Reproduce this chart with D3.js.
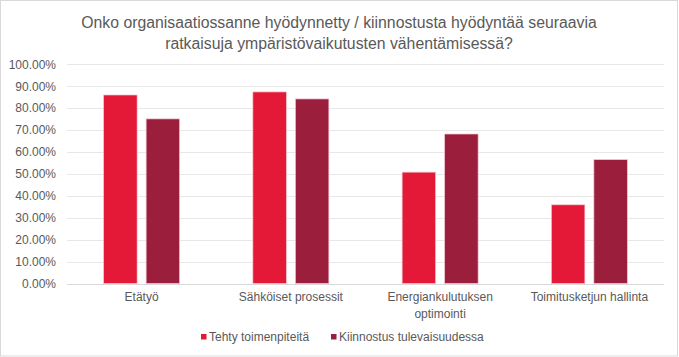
<!DOCTYPE html>
<html>
<head>
<meta charset="utf-8">
<script src="https://cdn.jsdelivr.net/npm/d3@7"></script>
<style>
  html, body { margin: 0; padding: 0; background: #fff; }
  svg { display: block; font-family: "Liberation Sans", Arial, sans-serif; }
</style>
</head>
<body>
<svg id="chart" width="679" height="357"></svg>
<script>
const titleLines = ["Onko organisaatiossanne hyödynnetty / kiinnostusta hyödyntää seuraavia",
                    "ratkaisuja ympäristövaikutusten vähentämisessä?"];
const categories = [["Etätyö"], ["Sähköiset prosessit"], ["Energiankulutuksen", "optimointi"], ["Toimitusketjun hallinta"]];
const seriesNames = ["Tehty toimenpiteitä", "Kiinnostus tulevaisuudessa"];
const seriesColors = ["#E31937", "#9B1F3D"];
const doneValues = [0.860, 0.874, 0.508, 0.359];
const interestValues = [0.751, 0.842, 0.682, 0.565];
const yTicks = [0, 0.1, 0.2, 0.3, 0.4, 0.5, 0.6, 0.7, 0.8, 0.9, 1.0];

const svg = d3.select("#chart");
const W = 679, H = 357;
const plot = {left: 67, right: 664, top: 64.3, bottom: 283.5};

// outer border
svg.append("rect").attr("x", 0.5).attr("y", 0.5).attr("width", W - 2).attr("height", H - 1.5)
  .attr("fill", "#fff").attr("stroke", "#d9d9d9").attr("stroke-width", 1);

// title
svg.append("text").attr("text-anchor", "middle").attr("fill", "#595959").attr("font-size", 15.8)
  .selectAll("tspan").data(titleLines).join("tspan")
  .attr("x", 339).attr("y", (d, i) => 27.5 + i * 21.5).text(d => d);

const catKeys = categories.map(c => c.join(" "));
const x0 = d3.scaleBand().domain(catKeys).range([plot.left, plot.right]).paddingInner(0).paddingOuter(0);
const y = d3.scaleLinear().domain([0, 1]).range([plot.bottom, plot.top]);

// gridlines
svg.append("g").selectAll("line").data(yTicks.filter(t => t > 0)).join("line")
  .attr("x1", plot.left).attr("x2", plot.right)
  .attr("y1", d => Math.round(y(d)) + 0.5).attr("y2", d => Math.round(y(d)) + 0.5)
  .attr("stroke", "#e8e8e8").attr("stroke-width", 1);

// y axis labels
const yAxis = d3.axisLeft(y).tickValues(yTicks).tickFormat(d => (d * 100).toFixed(2) + "%").tickSize(0).tickPadding(0);
const gy = svg.append("g").attr("transform", `translate(56,0)`).call(yAxis);
gy.select(".domain").remove();
gy.selectAll("text").attr("fill", "#595959").attr("font-size", 12).attr("font-family", "Liberation Sans, Arial, sans-serif");

// bars
const barW = 33.5, gap = 9;
const x1 = d3.scaleOrdinal().domain([0, 1]).range([-(barW + gap / 2), gap / 2]);
const data = catKeys.map((k, i) => ({k, vals: [doneValues[i], interestValues[i]]}));
const groups = svg.append("g").selectAll("g").data(data).join("g")
  .attr("transform", d => `translate(${x0(d.k) + x0.bandwidth() / 2},0)`);
groups.selectAll("rect").data(d => d.vals.map((v, s) => ({v, s}))).join("rect")
  .attr("x", d => x1(d.s)).attr("width", barW)
  .attr("y", d => y(d.v)).attr("height", d => y(0) - y(d.v))
  .attr("fill", d => seriesColors[d.s])
  .attr("stroke", "#f4c6cf").attr("stroke-width", 0.7);

// x axis line
svg.append("line").attr("x1", plot.left).attr("x2", plot.right)
  .attr("y1", Math.round(y(0)) + 0.5).attr("y2", Math.round(y(0)) + 0.5)
  .attr("stroke", "#d9d9d9").attr("stroke-width", 1);

// x labels
const xl = svg.append("g").selectAll("text").data(categories).join("text")
  .attr("text-anchor", "middle").attr("fill", "#595959").attr("font-size", 12);
xl.each(function(d, i) {
  d3.select(this).selectAll("tspan").data(d).join("tspan")
    .attr("x", x0(catKeys[i]) + x0.bandwidth() / 2)
    .attr("y", (t, j) => 301 + j * 17).text(t => t);
});

// legend
const legendItems = [{x: 201, name: seriesNames[0], c: seriesColors[0]}, {x: 331, name: seriesNames[1], c: seriesColors[1]}];
const lg = svg.append("g").selectAll("g").data(legendItems).join("g");
lg.append("rect").attr("x", d => d.x).attr("y", 334).attr("width", 5.5).attr("height", 5.5).attr("fill", d => d.c);
lg.append("text").attr("x", d => d.x + 8).attr("y", 340.5).attr("fill", "#595959").attr("font-size", 12).text(d => d.name);
</script>
</body>
</html>
